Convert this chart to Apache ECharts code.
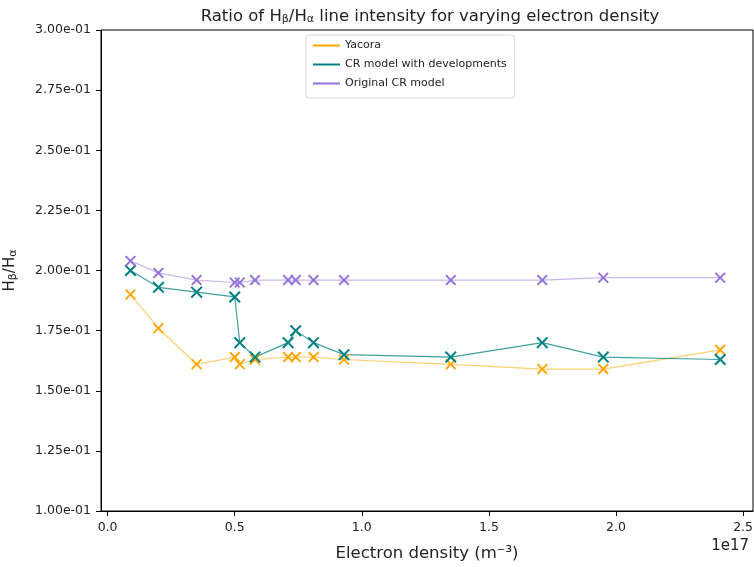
<!DOCTYPE html>
<html>
<head>
<meta charset="utf-8">
<title>Hbeta/Halpha ratio</title>
<script src="https://cdn.jsdelivr.net/npm/echarts@6.0.0/dist/echarts.min.js"></script>
<style>
  html, body { margin: 0; padding: 0; background: #fff; }
  #chart { width: 754px; height: 567px; }
</style>
</head>
<body>
<div id="chart"></div>
<script>
// electron density in units of 1e17 m^-3
const density = [0.09, 0.20, 0.35, 0.50, 0.52, 0.58, 0.71, 0.74, 0.81, 0.93, 1.35, 1.71, 1.95, 2.41];
const yacora = [0.190, 0.176, 0.161, 0.164, 0.161, 0.163, 0.164, 0.164, 0.164, 0.163, 0.161, 0.159, 0.159, 0.167];
const crDevelop = [0.200, 0.193, 0.191, 0.189, 0.170, 0.164, 0.170, 0.175, 0.170, 0.165, 0.164, 0.170, 0.164, 0.163];
const crOriginal = [0.204, 0.199, 0.196, 0.195, 0.195, 0.196, 0.196, 0.196, 0.196, 0.196, 0.196, 0.196, 0.197, 0.197];
const xTicks = [0, 0.5, 1.0, 1.5, 2.0, 2.5];
const seriesNames = ['Yacora', 'CR model with developments', 'Original CR model'];

const FONT = 'DejaVu Sans';
const crossSymbol = 'path://M0,1.2 L1.2,0 L5,3.8 L8.8,0 L10,1.2 L6.2,5 L10,8.8 L8.8,10 L5,6.2 L1.2,10 L0,8.8 L3.8,5 Z';

function pairs(xs, ys) {
  return xs.map((x, i) => [x, ys[i]]);
}

// matplotlib style 3.00e-01
function sciLabel(v) {
  const s = v.toExponential(2);
  return s.replace(/e([+-])(\d)$/, (m, sign, d) => 'e' + sign + '0' + d);
}

function makeSeries(name, ys, color, lineOpacity, markSize) {
  return {
    name: name,
    type: 'line',
    data: pairs(density, ys),
    symbol: crossSymbol,
    symbolSize: markSize,
    showAllSymbol: true,
    lineStyle: { color: color, width: 1.2, opacity: lineOpacity },
    itemStyle: { color: color },
    emphasis: { disabled: true },
    animation: false
  };
}

const chart = echarts.init(document.getElementById('chart'));

const option = {
  backgroundColor: '#fff',
  title: {
    text: 'Ratio of H{s|β}/H{s|α} line intensity for varying electron density',
    left: 425,
    top: 3,
    textAlign: 'center',
    textStyle: {
      fontFamily: FONT,
      fontSize: 16.5,
      fontWeight: 'normal',
      color: '#222',
      rich: {
        s: { fontFamily: FONT, fontSize: 11, color: '#222', padding: [6, 0, 0, 0] }
      }
    }
  },
  legend: {
    data: seriesNames,
    orient: 'vertical',
    left: 306,
    top: 35,
    padding: [5, 8, 9, 7],
    itemGap: 8,
    itemWidth: 27,
    itemHeight: 2,
    icon: 'rect',
    backgroundColor: '#fff',
    borderColor: '#d8d8d8',
    borderWidth: 1,
    borderRadius: 3,
    textStyle: { fontFamily: FONT, fontSize: 11, color: '#222' }
  },
  grid: {
    left: 101,
    right: 1,
    top: 30,
    bottom: 56,
    outerBoundsMode: 'none',
    containLabel: false,
    show: true,
    borderColor: '#000',
    borderWidth: 1
  },
  xAxis: {
    type: 'value',
    min: -0.026,
    max: 2.539,
    name: 'Electron density (m⁻³)',
    nameLocation: 'middle',
    nameGap: 34,
    nameTextStyle: { fontFamily: FONT, fontSize: 16.5, color: '#222' },
    axisLine: { show: true, onZero: false, lineStyle: { color: '#000', width: 1 } },
    axisTick: { show: true, length: 5, lineStyle: { color: '#000' }, customValues: xTicks },
    axisLabel: {
      customValues: xTicks,
      fontFamily: FONT,
      fontSize: 12.5,
      color: '#222',
      margin: 10,
      formatter: (v) => v.toFixed(1)
    },
    splitLine: { show: false }
  },
  yAxis: {
    type: 'value',
    min: 0.1,
    max: 0.3,
    interval: 0.025,
    name: 'H{s|β}/H{s|α}',
    nameLocation: 'middle',
    nameGap: 82,
    nameTextStyle: {
      fontFamily: FONT,
      fontSize: 15,
      color: '#222',
      rich: {
        s: { fontFamily: FONT, fontSize: 11, color: '#222', padding: [6, 0, 0, 0] }
      }
    },
    axisLine: { show: true, onZero: false, lineStyle: { color: '#000', width: 1 } },
    axisTick: { show: true, length: 5, lineStyle: { color: '#000' } },
    axisLabel: {
      fontFamily: FONT,
      fontSize: 12.5,
      color: '#222',
      margin: 10,
      formatter: sciLabel
    },
    splitLine: { show: false }
  },
  graphic: [
    {
      type: 'text',
      right: 5,
      top: 539,
      style: { text: '1e17', fontFamily: FONT, fontSize: 15, fill: '#222' }
    }
  ],
  series: [
    makeSeries(seriesNames[0], yacora, '#FFA500', 0.55, 11),
    makeSeries(seriesNames[1], crDevelop, '#008080', 0.75, 12),
    makeSeries(seriesNames[2], crOriginal, '#9370DB', 0.5, 11)
  ]
};

chart.setOption(option);

window.addEventListener('resize', () => chart.resize());
</script>
</body>
</html>
